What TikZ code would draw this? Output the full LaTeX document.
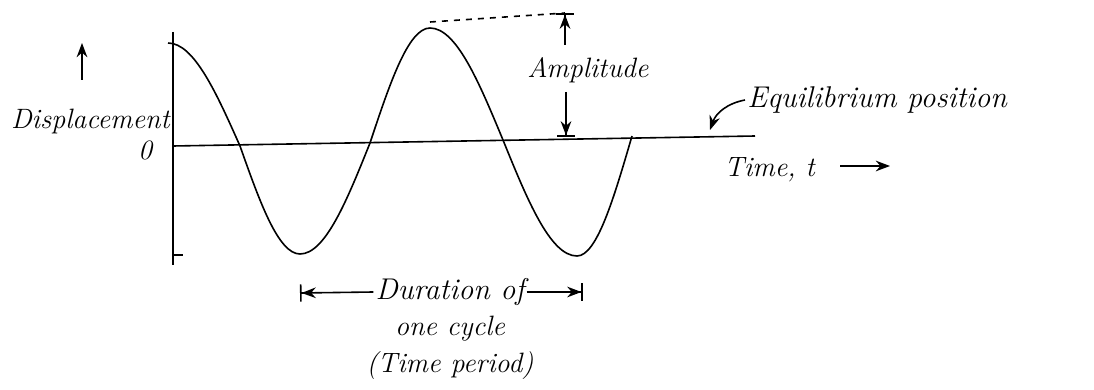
\documentclass[tikz,border=0pt]{standalone}
\usetikzlibrary{positioning,arrows.meta}
\tikzset{
  lbl/.style={font=\fontsize{14}{16}\selectfont\itshape,inner sep=1pt},
  arr/.style={-{Stealth[length=2.5mm]},thick},
  barr/.style={-{Stealth[length=2.5mm] Bar[width=3mm,sep=0pt]},thick},
  wave/.style={thick,line join=round}
}

\begin{document}
\begin{tikzpicture}[x=0.5pt,y=-0.5pt,node distance=2mm]
\useasboundingbox (0,0) rectangle (1094,390);

% axes
\coordinate (origin) at (173,146);
\draw[thick] (173,32) -- (173,265);
\draw[thick] (173,255) -- (183,255);
\draw[thick] (origin) -- (755,136) coordinate (axisend);
\node[lbl] (zero) at (145,150) {0};

\node[lbl,anchor=east] (disp) at (172,122) {Displacement};
\coordinate (dispup) at (82,43);
\draw[arr] (82,80) -- (dispup);

% the wave
\draw[wave] (168,43) cos (240,146) sin (300,254) cos (370,143) sin (430,28)
  cos (503,140) sin (577,256) cos (632,136);

% amplitude
\coordinate (peak) at (430,22);
\coordinate (amptop) at (565,13);
\coordinate (ampbot) at (566,137);
\draw[thick,dashed] (peak) -- (amptop);
\node[lbl] (amp) at (588,70) {Amplitude};
\draw[barr] (565,45) -- (amptop);
\draw[barr] (566,92) -- (ampbot);

% equilibrium position
\node[lbl,anchor=west,font=\fontsize{15}{17}\selectfont\itshape] (eq) at (745,100) {Equilibrium position};
\coordinate (eqpt) at (710,130);
\draw[arr] (eq.west) to[bend right=30] (eqpt);

% time axis label
\node[lbl,anchor=west] (time) at (722,170) {Time, t};
\draw[arr] (840,166) -- (890,166);

% time period
\node[lbl,font=\fontsize{15}{17}\selectfont\itshape] (dur) at (450,292) {Duration of};
\coordinate (durleft) at (300,293);
\coordinate (durright) at (583,292);
\draw[barr] (dur.west) -- (durleft);
\draw[barr] (dur.east) -- (durright);
\node[lbl,below=1mm of dur] (cycle) {one cycle};
\node[lbl,below=1mm of cycle] (period) {(Time period)};
\end{tikzpicture}
\end{document}
